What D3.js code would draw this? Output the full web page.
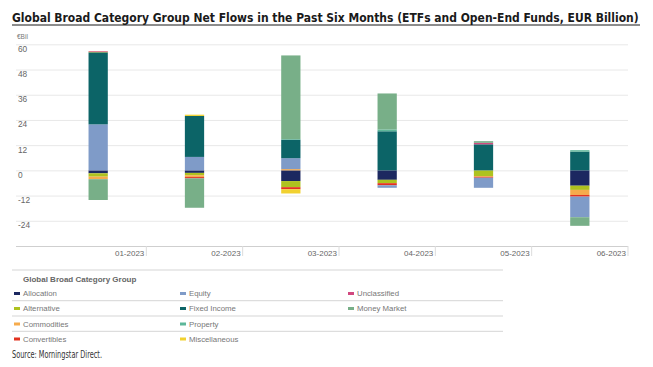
<!DOCTYPE html>
<html>
<head>
<meta charset="utf-8">
<script src="https://cdn.jsdelivr.net/npm/d3@7"></script>
<style>
  body { margin: 0; background: #fff; }
  text { font-family: "Liberation Sans", Arial, sans-serif; }
</style>
</head>
<body>
<div id="chart"></div>
<script>
// Data (EUR billion)
const months = ["01-2023", "02-2023", "03-2023", "04-2023", "05-2023", "06-2023"];
const seriesNames = ["Allocation", "Alternative", "Commodities", "Convertibles", "Equity",
    "Fixed Income", "Property", "Miscellaneous", "Unclassified", "Money Market"];

const allocation    = [-1.4, -1.2, -5.1, -4.5,  0.0, -7.3];
const alternative   = [-1.6, -1.1, -2.9, -1.6, -2.7, -2.0];
const commodities   = [-1.2, -0.9,  0.6,  0.0, -0.4, -2.4];
const convertibles  = [ 0.0, -0.6, -1.0, -1.0, -0.4, -0.8];
const equity        = [21.9,  6.4,  5.2, -1.2, -4.8, -9.8];
const fixedIncome   = [34.3, 19.5,  8.8, 18.6, 12.4,  8.9];
const property      = [ 0.0,  0.0,  0.3,  0.9,  0.0,  0.7];
const miscellaneous = [ 0.3,  0.6, -2.0,  0.0,  0.0,  0.0];
const unclassified  = [ 0.3,  0.0,  0.0,  0.0,  0.7,  0.0];
const moneyMarket   = [-9.9, -14.0, 39.8, 17.1, 0.8, -4.1];

const yTicks = [-36, -24, -12, 0, 12, 24, 36, 48, 60];

const seriesValues = [allocation, alternative, commodities, convertibles, equity,
    fixedIncome, property, miscellaneous, unclassified, moneyMarket];

const colors = ["#1c2860", "#aec21f", "#f6ab4c", "#e2321f", "#7f9bc8",
    "#0c6467", "#5db79a", "#f1d12f", "#d1487f", "#78af88"];

// build rows for d3.stack
const rows = months.map((m, i) => {
    const row = { month: m };
    seriesNames.forEach((s, j) => { row[s] = seriesValues[j][i]; });
    return row;
});

const W = 653, H = 367;
const svg = d3.select("#chart").append("svg")
    .attr("width", W)
    .attr("height", H);

// shrink a text's font until it fits the given width
function fitText(sel, width, size) {
    sel.style("font-size", size + "px");
    const w = sel.node().getComputedTextLength();
    if (w > 0) sel.style("font-size", (size * width / w).toFixed(2) + "px");
}

// title
const title = svg.append("text")
    .attr("x", 12)
    .attr("y", 22)
    .style("font-family", "'Liberation Sans Narrow', 'DejaVu Sans Condensed', sans-serif")
    .style("font-weight", "bold")
    .attr("fill", "#1a1a1a")
    .text("Global Broad Category Group Net Flows in the Past Six Months (ETFs and Open-End Funds, EUR Billion)");
fitText(title, 627, 14.5);
svg.append("line")
    .attr("x1", 12).attr("x2", 640)
    .attr("y1", 25).attr("y2", 25)
    .attr("stroke", "#1a1a1a")
    .attr("stroke-width", 1.2);

svg.append("text")
    .attr("x", 17)
    .attr("y", 39)
    .style("font-size", "6.5px")
    .attr("fill", "#777")
    .text("€Bil");

// scales
const x = d3.scaleBand()
    .domain(months)
    .range([50, 628])
    .paddingInner(0.8)
    .paddingOuter(0.4);

const y = d3.scaleLinear()
    .domain([-36, 60])
    .range([246, 44.3]);

// y axis with gridlines
const yAxis = svg.append("g")
    .attr("transform", "translate(16,0)")
    .call(d3.axisRight(y).tickValues(yTicks).tickSize(612).tickFormat(d => d === -36 ? "" : d));
yAxis.select(".domain").remove();
yAxis.selectAll(".tick line")
    .attr("stroke", d => d === -36 ? "#cfcfcf" : "#e8e8e8");
yAxis.selectAll(".tick text")
    .attr("x", 2)
    .attr("dy", 7)
    .style("font-size", "8.3px")
    .attr("fill", "#666");

// stacked bars
const stack = d3.stack()
    .keys(seriesNames)
    .offset(d3.stackOffsetDiverging);
const stacked = stack(rows);

svg.append("g")
    .selectAll("g")
    .data(stacked)
    .join("g")
    .attr("fill", (d, i) => colors[i])
    .selectAll("rect")
    .data(d => d)
    .join("rect")
    .attr("x", d => x(d.data.month))
    .attr("y", d => y(Math.max(d[0], d[1])))
    .attr("width", x.bandwidth())
    .attr("height", d => Math.abs(y(d[0]) - y(d[1])));

// x axis: labels right-aligned at the end of each month cell
const step = x.step();
const xAxis = svg.append("g")
    .attr("transform", "translate(0,246)")
    .call(d3.axisBottom(x).tickSize(0));
xAxis.select(".domain").remove();
xAxis.selectAll(".tick").append("line")
    .attr("x1", step / 2).attr("x2", step / 2)
    .attr("y1", 0).attr("y2", 10)
    .attr("stroke", "#dcdcdc");
xAxis.selectAll(".tick text")
    .attr("x", step / 2 - 2)
    .attr("y", 4)
    .attr("text-anchor", "end")
    .style("font-size", "8px")
    .attr("fill", "#666");

// legend
svg.append("line")
    .attr("x1", 12).attr("x2", 503)
    .attr("y1", 270).attr("y2", 270)
    .attr("stroke", "#d5d5d5");
svg.append("text")
    .attr("x", 23)
    .attr("y", 282)
    .style("font-size", "8px")
    .style("font-weight", "bold")
    .attr("fill", "#666")
    .text("Global Broad Category Group");

[300.7, 316, 331.3].forEach(ly => {
    svg.append("line")
        .attr("x1", 12).attr("x2", 503)
        .attr("y1", ly).attr("y2", ly)
        .attr("stroke", "#d5d5d5");
});

const colX = [14, 180, 348];
const rowY = [296, 311, 326.5, 341.5];
const legend = svg.append("g")
    .selectAll("g")
    .data(seriesNames)
    .join("g")
    .attr("transform", (d, i) => `translate(${colX[Math.floor(i / 4)]},${rowY[i % 4]})`);
legend.append("rect")
    .attr("x", 0)
    .attr("y", -4)
    .attr("width", 6)
    .attr("height", 3)
    .attr("fill", (d, i) => colors[i]);
legend.append("text")
    .attr("x", 9)
    .attr("y", 0)
    .style("font-size", "7.8px")
    .attr("fill", "#777")
    .text(d => d);

svg.append("text")
    .attr("x", 12)
    .attr("y", 358)
    .attr("textLength", 90)
    .attr("lengthAdjust", "spacingAndGlyphs")
    .style("font-family", "'Liberation Sans Narrow', 'DejaVu Sans Condensed', sans-serif")
    .style("font-size", "10.5px")
    .attr("fill", "#333")
    .text("Source: Morningstar Direct.");
</script>
</body>
</html>
